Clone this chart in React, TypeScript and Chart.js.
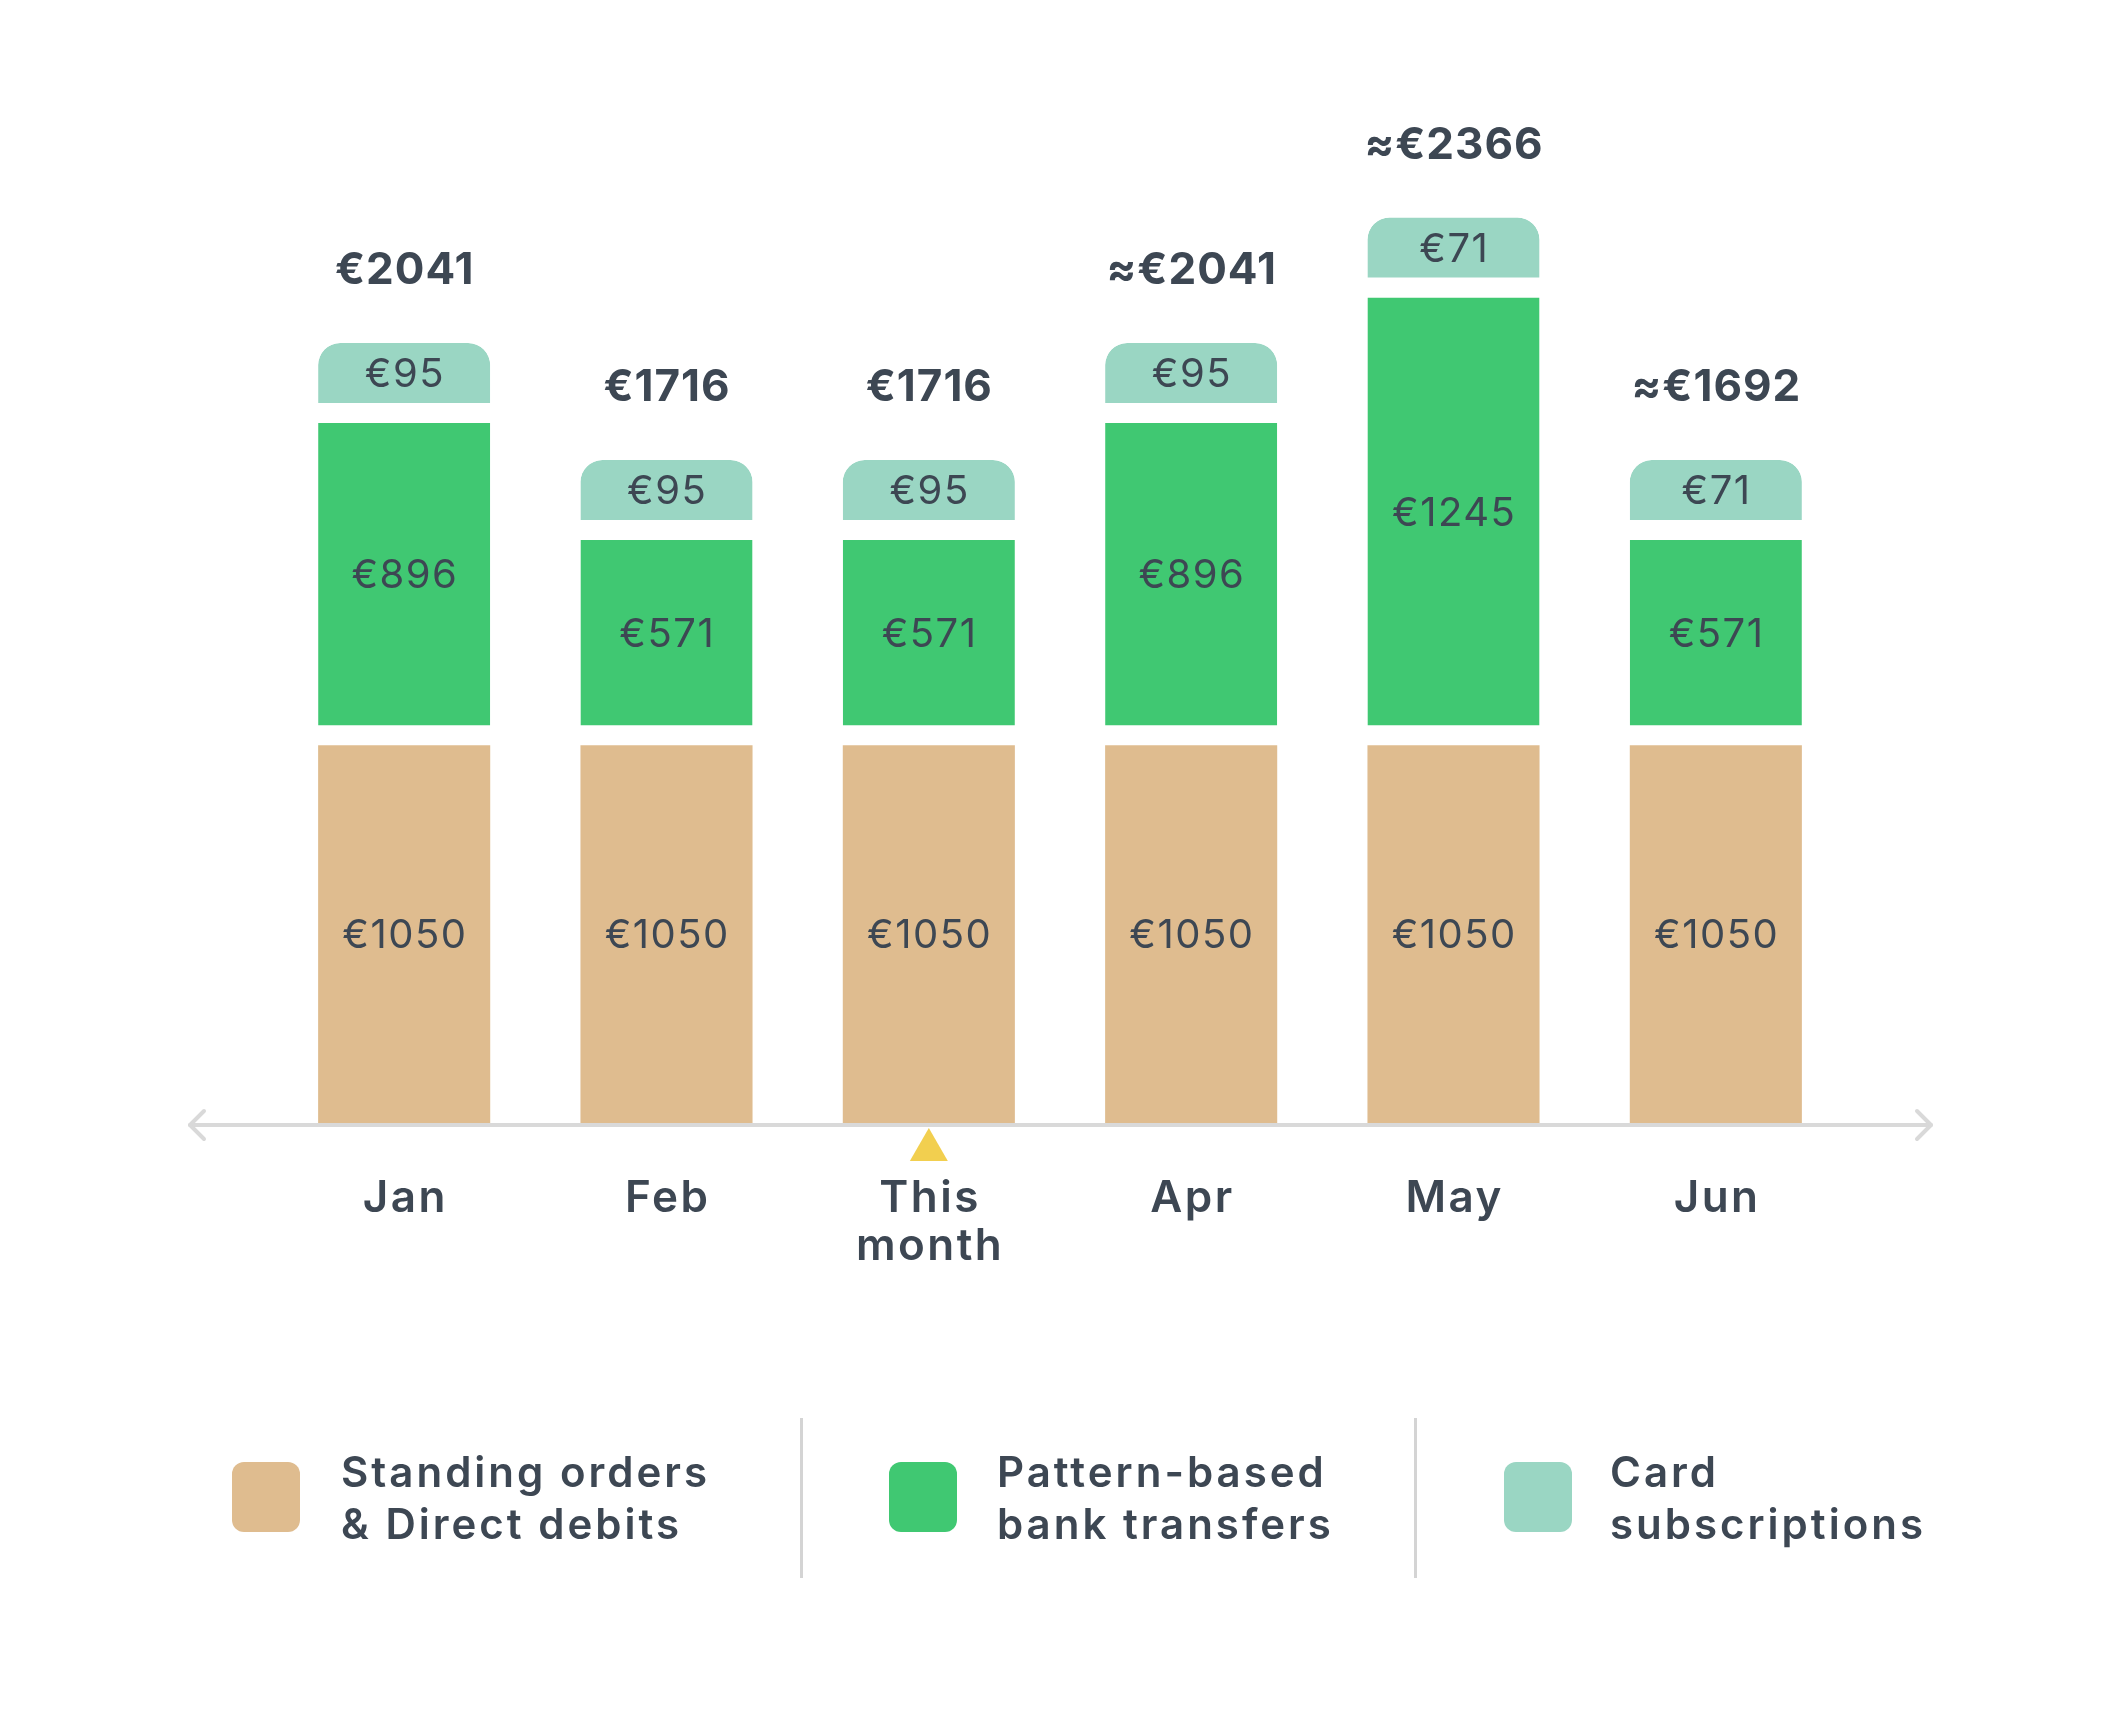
import React, { useEffect, useRef } from "react";
import { Chart, registerables } from "chart.js";

Chart.register(...registerables);

const months = ["Jan", "Feb", "This month", "Apr", "May", "Jun"];
const tickLines = [["Jan"], ["Feb"], ["This", "month"], ["Apr"], ["May"], ["Jun"]];
const standingOrders = [1050, 1050, 1050, 1050, 1050, 1050];
const patternTransfers = [896, 571, 571, 896, 1245, 571];
const cardSubs = [95, 95, 95, 95, 71, 71];
const isEstimate = [false, false, false, true, true, true];
const currentIndex = 2;
const seriesNames = ["Standing orders & Direct debits", "Pattern-based bank transfers", "Card subscriptions"];
const legendLabels = [
  ["Standing orders", "& Direct debits"],
  ["Pattern-based", "bank transfers"],
  ["Card", "subscriptions"],
];

const TAN = "#DFBC8F";
const GREEN = "#40C872";
const TEAL = "#9AD6C3";
const TEXT = "#3D4753";
const AXIS = "#D9D9D9";
const YELLOW = "#F2CF4F";
const FONT = "Inter, 'Open Sans', sans-serif";
const GAP = 20;

function spaced(ctx: any, text: string, x: number, y: number, sp: number) {
  ctx.letterSpacing = sp + "px";
  ctx.fillText(text, x + sp / 2, y);
  ctx.letterSpacing = "0px";
}

const overlayPlugin = {
  id: "overlay",
  afterDatasetsDraw(chart: any) {
    const ctx = chart.ctx as CanvasRenderingContext2D;
    const { left, right, bottom } = chart.chartArea;
    const xs = chart.scales.x;
    ctx.save();

    // axis line with arrows
    const ay = bottom + 2;
    const x0 = left - 83;
    const x1 = right + 84;
    ctx.strokeStyle = AXIS;
    ctx.lineWidth = 4;
    ctx.lineCap = "round";
    ctx.lineJoin = "round";
    ctx.beginPath();
    ctx.moveTo(x0, ay);
    ctx.lineTo(x1, ay);
    ctx.stroke();
    ctx.beginPath();
    ctx.moveTo(x0 + 14, ay - 14);
    ctx.lineTo(x0, ay);
    ctx.lineTo(x0 + 14, ay + 14);
    ctx.stroke();
    ctx.beginPath();
    ctx.moveTo(x1 - 14, ay - 14);
    ctx.lineTo(x1, ay);
    ctx.lineTo(x1 - 14, ay + 14);
    ctx.stroke();

    // current month marker
    const cx = xs.getPixelForValue(currentIndex);
    ctx.fillStyle = YELLOW;
    ctx.beginPath();
    ctx.moveTo(cx, bottom + 5);
    ctx.lineTo(cx + 19, bottom + 38);
    ctx.lineTo(cx - 19, bottom + 38);
    ctx.closePath();
    ctx.fill();

    // segment labels
    ctx.textAlign = "center";
    ctx.textBaseline = "middle";
    ctx.fillStyle = TEXT;
    ctx.font = `400 40px ${FONT}`;
    chart.data.datasets.forEach((ds: any, di: number) => {
      const meta = chart.getDatasetMeta(di);
      const bw = ds.borderWidth && ds.borderWidth.bottom ? ds.borderWidth.bottom : 0;
      meta.data.forEach((bar: any, i: number) => {
        const p = bar.getProps(["x", "y", "base"], true);
        const cy = (p.y + p.base - bw) / 2;
        spaced(ctx, "€" + ds.data[i], p.x, cy + 2, 1.5);
      });
    });

    // totals
    const topMeta = chart.getDatasetMeta(2);
    ctx.font = `700 44px ${FONT}`;
    topMeta.data.forEach((bar: any, i: number) => {
      const p = bar.getProps(["x", "y"], true);
      const total = standingOrders[i] + patternTransfers[i] + cardSubs[i];
      spaced(ctx, (isEstimate[i] ? "≈" : "") + "€" + total, p.x, p.y - 72, 1);
    });

    // x tick labels
    ctx.font = `600 44px ${FONT}`;
    tickLines.forEach((lines, i) => {
      const x = xs.getPixelForValue(i);
      lines.forEach((t, li) => {
        spaced(ctx, t, x, bottom + 76 + li * 48, 2.5);
      });
    });
    ctx.restore();
  },
};

export default function App() {
  const ref = useRef<HTMLCanvasElement | null>(null);

  useEffect(() => {
    if (!ref.current) return;
    const chart = new Chart(ref.current, {
      type: "bar",
      data: {
        labels: months,
        datasets: [
          {
            label: seriesNames[0],
            data: standingOrders,
            backgroundColor: TAN,
            borderWidth: 0,
            stack: "s",
          },
          {
            label: seriesNames[1],
            data: patternTransfers,
            backgroundColor: GREEN,
            borderColor: "#FFFFFF",
            borderWidth: { top: 0, left: 0, right: 0, bottom: GAP },
            borderSkipped: false,
            stack: "s",
          },
          {
            label: seriesNames[2],
            data: cardSubs,
            backgroundColor: TEAL,
            borderColor: "#FFFFFF",
            borderWidth: { top: 0, left: 0, right: 0, bottom: GAP },
            borderSkipped: false,
            borderRadius: { topLeft: 22, topRight: 22, bottomLeft: 0, bottomRight: 0 },
            minBarLength: 80,
            stack: "s",
          },
        ] as any,
      },
      options: {
        responsive: false,
        animation: false,
        devicePixelRatio: 1,
        layout: { padding: { left: 273, right: 273, top: 80, bottom: 605 } },
        datasets: { bar: { categoryPercentage: 1, barPercentage: 0.656 } },
        scales: {
          x: { stacked: true, display: false },
          y: { stacked: true, display: false, min: 0, max: 2900 },
        },
        plugins: {
          legend: { display: false },
          tooltip: { enabled: false },
        },
      },
      plugins: [overlayPlugin],
    });
    return () => chart.destroy();
  }, []);

  const swatchColors = [TAN, GREEN, TEAL];
  const swatchX = [232, 889, 1504];
  const textX = [341, 997, 1610];
  const dividerX = [800, 1414];

  return (
    <div style={{ position: "relative", width: 2120, height: 1728, background: "#fff", overflow: "hidden" }}>
      <style>{`body{margin:0;background:#fff;}`}</style>
      <canvas ref={ref} width={2120} height={1728} style={{ position: "absolute", left: 0, top: 0 }} />
      {legendLabels.map((lines, i) => (
        <React.Fragment key={i}>
          <div
            style={{
              position: "absolute",
              left: swatchX[i],
              top: 1462,
              width: 68,
              height: 70,
              borderRadius: 12,
              background: swatchColors[i],
            }}
          />
          <div
            style={{
              position: "absolute",
              left: textX[i],
              top: 1446,
              fontFamily: FONT,
              fontWeight: 600,
              fontSize: 42,
              lineHeight: "52px",
              letterSpacing: "3px",
              color: TEXT,
              whiteSpace: "nowrap",
            }}
          >
            {lines.map((l, li) => (
              <div key={li}>{l}</div>
            ))}
          </div>
        </React.Fragment>
      ))}
      {dividerX.map((x, i) => (
        <div
          key={"d" + i}
          style={{ position: "absolute", left: x, top: 1418, width: 3, height: 160, background: "#D4D4D4" }}
        />
      ))}
    </div>
  );
}
